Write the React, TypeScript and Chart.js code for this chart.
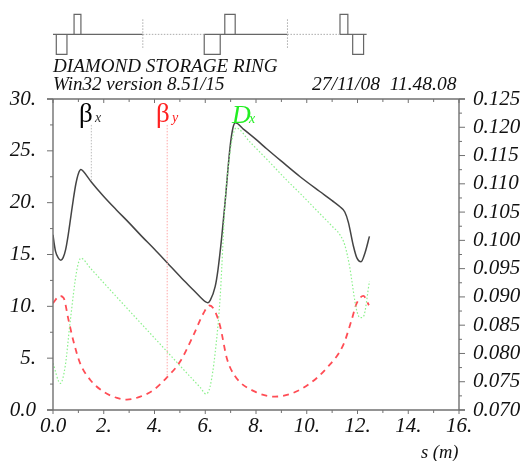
import React, { useEffect, useRef } from "react";
import { Chart, registerables } from "chart.js";

Chart.register(...registerables);

const betaXS = [0, 0.05, 0.1, 0.2, 0.31, 0.4, 0.5, 0.6, 0.7, 0.8, 0.9, 1.0, 1.1, 1.2, 1.51, 2, 2.5, 3, 3.5, 4, 4.5, 5, 5.5, 5.8, 6.0, 6.1, 6.2, 6.39, 6.5, 6.65, 6.78, 6.98, 7.09, 7.19, 7.5, 8, 8.42, 9, 9.74, 10.5, 11, 11.31, 11.5, 11.64, 11.84, 11.97, 12.14, 12.3, 12.47];
const betaXV = [16.9, 16.0, 15.3, 14.7, 14.45, 14.7, 15.5, 16.9, 18.6, 20.3, 21.8, 22.8, 23.2, 23.0, 22.0, 20.6, 19.3, 18.05, 16.75, 15.5, 14.2, 12.9, 11.65, 10.9, 10.45, 10.35, 10.6, 11.9, 13.5, 16.7, 20.0, 25.4, 27.2, 27.7, 27.1, 26.1, 25.2, 24.0, 22.5, 21.1, 20.2, 19.6, 19.1, 18.1, 15.8, 14.7, 14.3, 15.2, 16.75];

const betaYS = [0, 0.26, 0.42, 0.61, 0.81, 1.07, 1.47, 1.99, 2.52, 2.91, 3.44, 3.96, 4.5, 5.01, 5.54, 5.93, 6.17, 6.39, 6.59, 6.85, 7.17, 7.96, 8.75, 9.41, 10.13, 10.78, 11.44, 11.77, 11.97, 12.23, 12.45];
const betaYV = [10.3, 11.0, 10.8, 8.7, 6.6, 4.5, 2.9, 1.77, 1.16, 1.0, 1.29, 1.93, 3.17, 4.67, 7.25, 9.33, 10.08, 9.5, 8.05, 5.0, 3.28, 1.77, 1.29, 1.6, 2.57, 4.03, 6.28, 8.7, 10.3, 11.0, 10.1];

const dispS = [0, 0.29, 0.48, 0.67, 0.94, 1.1, 1.47, 2.2, 3.04, 3.8, 4.5, 5.3, 5.8, 6.03, 6.19, 6.39, 6.59, 6.65, 6.78, 6.91, 7.05, 7.22, 7.76, 8.5, 9.2, 9.74, 10.5, 11, 11.31, 11.5, 11.7, 11.77, 11.95, 12.1, 12.23, 12.47];
const dispV = [0.07825, 0.07471, 0.0777, 0.08535, 0.09475, 0.09686, 0.0951, 0.0915, 0.0874, 0.0837, 0.0803, 0.0764, 0.074, 0.07284, 0.07413, 0.08008, 0.09008, 0.09512, 0.10667, 0.11308, 0.11767, 0.11987, 0.1174, 0.114, 0.1107, 0.1083, 0.1048, 0.1025, 0.10098, 0.09915, 0.09512, 0.09303, 0.08797, 0.08632, 0.0865, 0.09273];

// Lattice: magnets along s, strength sign gives the side of the baseline
const latticeBaselines = [[0, 3.54], [5.96, 9.24], [11.31, 12.36]];
const latticeBoxes = [
  { s0: 0.13, s1: 0.55, k: -1 },
  { s0: 0.83, s1: 1.1, k: 1 },
  { s0: 5.96, s1: 6.59, k: -1 },
  { s0: 6.77, s1: 7.18, k: 1 },
  { s0: 11.31, s1: 11.62, k: 1 },
  { s0: 11.81, s1: 12.24, k: -1 },
];
const latticeDriftS = [[3.54, 5.96], [9.24, 11.31]];
const latticeMarkS = [3.54, 9.24];

const markerXS = [1.51, 1.51];
const markerXV = [27.5, 22.1];
const markerYS = [4.5, 4.5];
const markerYV = [27.5, 3.17];

const xMajorLabels = [0, 2, 4, 6, 8, 10, 12, 14, 16];

const pts = (xs: number[], ys: number[]) => xs.map((x, i) => ({ x, y: ys[i] }));

const SERIF = "'Liberation Serif'";

const ticksPlugin = {
  id: "customTicks",
  afterDraw(chart: any) {
    const { ctx, chartArea: a, scales } = chart;
    ctx.save();
    ctx.strokeStyle = "#707070";
    ctx.lineWidth = 1.4;
    const line = (x1: number, y1: number, x2: number, y2: number) => {
      ctx.beginPath();
      ctx.moveTo(x1, y1);
      ctx.lineTo(x2, y2);
      ctx.stroke();
    };
    line(a.left - 6, a.top, a.right + 6, a.top);
    line(a.left - 6, a.bottom, a.right + 6, a.bottom);
    line(a.left, a.top, a.left, a.bottom);
    line(a.right, a.top, a.right, a.bottom);
    ctx.lineWidth = 1;
    for (let v = 0; v <= 16; v += 1) {
      const x = scales.x.getPixelForValue(v);
      const len = v % 2 === 0 ? 4 : 3;
      line(x, a.top, x, a.top + len);
      line(x, a.bottom, x, a.bottom + len);
    }
    for (let i = 0; i <= 12; i++) {
      const v = i * 2.5;
      const y = scales.y.getPixelForValue(v);
      const len = i % 2 === 0 ? 6 : 3;
      line(a.left - len, y, a.left, y);
    }
    for (let i = 0; i <= 22; i++) {
      const v = 0.07 + i * 0.0025;
      const y = scales.y1.getPixelForValue(v);
      const len = i % 2 === 0 ? 6 : 3;
      line(a.right, y, a.right + len, y);
    }
    // dotted end marks of the lattice
    ctx.strokeStyle = "#aaaaaa";
    ctx.setLineDash([1.5, 1.5]);
    for (const s of latticeMarkS) {
      const x = scales.x.getPixelForValue(s);
      line(x, scales.lat.getPixelForValue(0.75), x, scales.lat.getPixelForValue(-0.75));
    }
    for (const [s0, s1] of latticeDriftS) {
      const y = scales.lat.getPixelForValue(0);
      line(scales.x.getPixelForValue(s0), y, scales.x.getPixelForValue(s1), y);
    }
    ctx.setLineDash([]);

    // texts
    ctx.textBaseline = "alphabetic";
    ctx.fillStyle = "#111111";
    ctx.font = `italic 19.1px ${SERIF}`;
    ctx.textAlign = "left";
    ctx.fillText("DIAMOND STORAGE RING", 53, 72);
    ctx.font = `italic 19px ${SERIF}`;
    ctx.fillText("Win32 version 8.51/15", 53, 90);
    ctx.font = `italic 19.5px ${SERIF}`;
    ctx.fillText("27/11/08  11.48.08", 312, 90);
    ctx.font = `italic 18.5px ${SERIF}`;
    ctx.fillText("s (m)", 421, 458);

    ctx.font = `27px ${SERIF}`;
    ctx.fillStyle = "#000000";
    ctx.fillText("\u03b2", 79, 122);
    ctx.font = `italic 14px ${SERIF}`;
    ctx.fillStyle = "#333333";
    ctx.fillText("x", 95, 122);
    ctx.font = `27px ${SERIF}`;
    ctx.fillStyle = "#ff2020";
    ctx.fillText("\u03b2", 156, 122);
    ctx.font = `italic 14px ${SERIF}`;
    ctx.fillText("y", 172, 122);
    ctx.font = `italic 26px ${SERIF}`;
    ctx.fillStyle = "#22ee22";
    ctx.fillText("D", 232, 123);
    ctx.font = `italic 14px ${SERIF}`;
    ctx.fillText("x", 249, 123);
    ctx.restore();
  },
};

export default function App() {
  const ref = useRef<HTMLCanvasElement>(null);
  useEffect(() => {
    if (!ref.current) return;
    const latticeStyle = {
      xAxisID: "x",
      yAxisID: "lat",
      borderColor: "#666666",
      borderWidth: 1.2,
      pointRadius: 0,
      tension: 0,
      clip: false,
    };
    const chart = new Chart(ref.current, {
      type: "line",
      data: {
        datasets: [
          { data: pts(markerXS, markerXV), yAxisID: "y", borderColor: "#bbbbbb", borderWidth: 1, borderDash: [1.5, 1.5], pointRadius: 0 },
          { data: pts(markerYS, markerYV), yAxisID: "y", borderColor: "#ffa8a8", borderWidth: 1, borderDash: [1.5, 1.5], pointRadius: 0 },
          { data: pts(dispS, dispV), yAxisID: "y1", borderColor: "#8cf08c", borderWidth: 1.2, borderDash: [1.5, 2], pointRadius: 0, cubicInterpolationMode: "monotone" },
          { data: pts(betaYS, betaYV), yAxisID: "y", borderColor: "#ff4d55", borderWidth: 1.8, borderDash: [6, 5], pointRadius: 0, cubicInterpolationMode: "monotone" },
          { data: pts(betaXS, betaXV), yAxisID: "y", borderColor: "#444444", borderWidth: 1.5, pointRadius: 0, cubicInterpolationMode: "monotone" },
          ...latticeBaselines.map(([s0, s1]) => ({ data: pts([s0, s1], [0, 0]), ...latticeStyle })),
          ...latticeBoxes.map((b) => ({
            data: pts([b.s0, b.s0, b.s1, b.s1], [0, b.k, b.k, 0]),
            ...latticeStyle,
          })),
        ] as any,
      },
      options: {
        responsive: false,
        animation: false,
        layout: { padding: { top: 99, left: 0, right: 0, bottom: 0 } },
        plugins: { legend: { display: false }, tooltip: { enabled: false } },
        scales: {
          x: {
            type: "linear",
            min: 0,
            max: 16,
            grid: { display: false, drawTicks: false },
            border: { display: false },
            afterFit: (s: any) => { s.height = 51; },
            afterBuildTicks: (s: any) => { s.ticks = xMajorLabels.map((value) => ({ value })); },
            ticks: {
              autoSkip: false,
              maxRotation: 0,
              padding: 4,
              color: "#111111",
              font: { family: SERIF, size: 21, style: "italic" },
              callback: (v: any) => (v === 0 ? "0.0" : `${v}.`),
            },
          },
          y: {
            position: "left",
            min: 0,
            max: 30,
            grid: { display: false, drawTicks: false },
            border: { display: false },
            afterFit: (s: any) => { s.width = 53; },
            ticks: {
              stepSize: 5,
              padding: 17,
              color: "#111111",
              font: { family: SERIF, size: 21, style: "italic" },
              callback: (v: any) => (v === 0 ? "0.0" : `${v}.`),
            },
          },
          y1: {
            position: "right",
            min: 0.07,
            max: 0.125,
            grid: { display: false, drawTicks: false },
            border: { display: false },
            afterFit: (s: any) => { s.width = 67; },
            ticks: {
              autoSkip: false,
              stepSize: 0.005,
              padding: 14,
              color: "#111111",
              font: { family: SERIF, size: 21, style: "italic" },
              callback: (v: any) => Number(v).toFixed(3),
            },
          },
          lat: {
            display: false,
            min: -18.77,
            max: -3.23,
          },
        },
      } as any,
      plugins: [ticksPlugin],
    });
    return () => chart.destroy();
  }, []);
  return (
    <canvas
      ref={ref}
      width={526}
      height={461}
      style={{ position: "fixed", left: 0, top: 0, display: "block" }}
    />
  );
}
